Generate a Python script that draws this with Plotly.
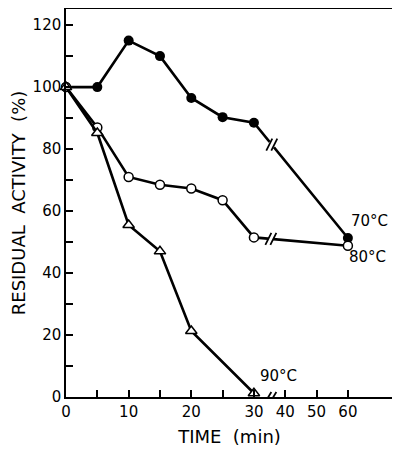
import numpy as np
import plotly.graph_objects as go

# data (time in min, residual activity in %)
time_70 = [0, 5, 10, 15, 20, 25, 30, 60]
act_70 = [100, 100, 115, 110, 96.5, 90.3, 88.5, 51.3]

time_80 = [0, 5, 10, 15, 20, 25, 30, 60]
act_80 = [100, 87, 71, 68.5, 67.3, 63.5, 51.5, 48.8]

time_90 = [0, 5, 10, 15, 20, 30]
act_90 = [100, 85.2, 55.5, 47, 21.3, 1.2]

x_ticks = [0, 5, 10, 15, 20, 25, 30, 40, 50, 60]
x_ticklabels = ["0", "", "10", "", "20", "", "30", "40", "50", "60"]
y_ticks = [0, 10, 20, 30, 40, 50, 60, 70, 80, 90, 100, 110, 120]
y_ticklabels = ["0", "", "20", "", "40", "", "60", "", "80", "", "100", "", "120"]

# figure geometry (the page adds an 8px body margin, so the figure is 8px smaller)
W, H = 392, 444
ML, MR, MT, MB = 58, 7, 1, 55
X_RANGE = [0, 52.2]
Y_RANGE = [0, 125.2]
px_x = (W - ML - MR) / (X_RANGE[1] - X_RANGE[0])
px_y = (H - MT - MB) / (Y_RANGE[1] - Y_RANGE[0])

FONT = "DejaVu Sans"


def to_axis(t):
    """Broken time axis: after 30 min, 10 min takes the room of 5."""
    t = np.asarray(t, dtype=float)
    return np.where(t <= 30, t, 30 + (t - 30) / 2)


fig = go.Figure()

series = [
    (time_70, act_70, dict(symbol="circle", size=10, color="black")),
    (time_80, act_80, dict(symbol="circle", size=9, color="white", line=dict(color="black", width=1.5))),
    (time_90, act_90, dict(symbol="triangle-up", size=10, color="white", line=dict(color="black", width=1.5))),
]
for t, a, marker in series:
    fig.add_trace(go.Scatter(
        x=to_axis(t), y=a, mode="lines+markers",
        line=dict(color="black", width=2.6),
        marker=marker, cliponaxis=False, showlegend=False,
    ))


def break_mark(xp, yp, dx=3, dy=6, sep=4):
    # xp, yp in data coords; offsets in pixels
    ex, ey = dx / px_x, dy / px_y
    s = sep / 2 / px_x
    for off in (-s, s):
        fig.add_shape(type="line", x0=xp + off - ex, y0=yp - ey, x1=xp + off + ex, y1=yp + ey,
                      line=dict(color="black", width=1.8), layer="above")


# breaks on the 70 and 80 degree lines, between 30 and 60 min
for t, a, frac in [(time_70, act_70, 0.19), (time_80, act_80, 0.18)]:
    x0, x1 = to_axis([t[-2], t[-1]])
    y0, y1 = a[-2], a[-1]
    xb = x0 + frac * (x1 - x0)
    yb = y0 + frac * (y1 - y0)
    # white gap on the line
    gx = 2.2 / px_x
    slope = (y1 - y0) / (x1 - x0)
    fig.add_shape(type="line", x0=xb - gx, x1=xb + gx, y0=yb - gx * slope, y1=yb + gx * slope,
                  line=dict(color="white", width=5), layer="above")
    break_mark(xb, yb, dx=3, dy=6, sep=5)

# break on the time axis
break_mark(32.7, 0, dx=3, dy=5, sep=5)

labels = [("70°C", 45.2, 56.8), ("80°C", 44.9, 45.2), ("90°C", 30.6, 6.9)]
for txt, xa, ya in labels:
    fig.add_annotation(x=xa, y=ya, text=txt, showarrow=False, xanchor="left", yanchor="middle",
                       font=dict(family=FONT, size=15, color="black"))

fig.update_xaxes(
    range=X_RANGE, tickvals=to_axis(x_ticks), ticktext=x_ticklabels,
    ticks="inside", ticklen=7, tickwidth=1.5, tickcolor="black",
    showline=True, linecolor="black", linewidth=1.5, mirror=True,
    showgrid=False, zeroline=False, automargin=False,
    tickfont=dict(family=FONT, size=15, color="black"),
    title=dict(text="TIME  (min)", font=dict(family=FONT, size=18, color="black"), standoff=11),
)
fig.update_yaxes(
    range=Y_RANGE, tickvals=y_ticks, ticktext=y_ticklabels,
    ticks="inside", ticklen=7, tickwidth=1.5, tickcolor="black",
    showline=True, linecolor="black", linewidth=1.5, mirror=True,
    showgrid=False, zeroline=False, automargin=False,
    tickfont=dict(family=FONT, size=15, color="black"),
    title=dict(text="RESIDUAL  ACTIVITY  (%)", font=dict(family=FONT, size=18, color="black"), standoff=8),
)
fig.update_layout(
    width=W, height=H,
    margin=dict(l=ML, r=MR, t=MT, b=MB),
    plot_bgcolor="white", paper_bgcolor="white",
    showlegend=False,
)

fig.write_html("out.html")
